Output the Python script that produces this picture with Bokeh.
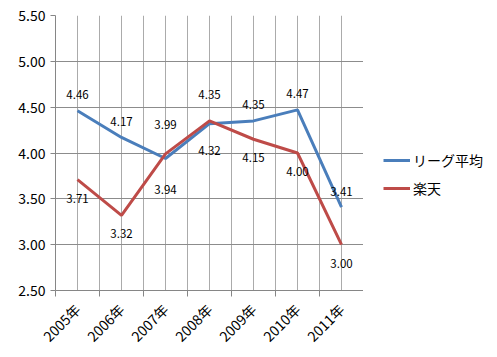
import math
from bokeh.plotting import figure
from bokeh.layouts import row
from bokeh.models import (FixedTicker, Range1d, Legend, LegendItem, ColumnDataSource,
                          LabelSet, NumeralTickFormatter, CustomJSTickFormatter)
from bokeh.core.properties import value
from bokeh.embed import file_html
from bokeh.resources import INLINE

# ---- data ----
years = ["2005年", "2006年", "2007年", "2008年", "2009年", "2010年", "2011年"]
league_avg = [4.46, 4.17, 3.94, 4.32, 4.35, 4.47, 3.41]
rakuten = [3.71, 3.32, 3.99, 4.35, 4.15, 4.00, 3.00]
series_names = ["リーグ平均", "楽天"]
y_ticks = [2.5, 3.0, 3.5, 4.0, 4.5, 5.0, 5.5]

# ---- styling ----
FONT = "Noto Sans CJK JP"
BLUE = "#4A7EBB"
RED = "#BE4B48"
AXIS = "#868686"
HGRID = "#8c8c8c"
VGRID = "#ababab"
blue_label_offsets = [16, 16, -31, -27, 16, 16, 16]
red_label_offsets = [-19, -18, 29, 26, -18, -18, -19]

xs = list(range(len(years)))

p = figure(width=363, height=357, output_backend="svg", toolbar_location=None,
           x_range=Range1d(-0.5, len(years) - 0.5),
           y_range=Range1d(y_ticks[0], y_ticks[-1]),
           min_border_left=55, min_border_top=15, min_border_right=0, min_border_bottom=67)
p.outline_line_color = None
p.background_fill_color = "white"

# x axis: labels at centers, tick marks at category boundaries (minor ticks)
xt = FixedTicker(ticks=xs, minor_ticks=[i - 0.5 for i in range(len(years) + 1)])
p.xaxis.ticker = xt
p.xaxis.formatter = CustomJSTickFormatter(args=dict(labels=years),
                                          code="const i = Math.round(tick); return labels[i] || '';")
p.xaxis.major_tick_out = 0
p.xaxis.major_tick_in = 0
p.xaxis.minor_tick_out = 6
p.xaxis.minor_tick_in = 0
p.xaxis.minor_tick_line_color = AXIS
p.xaxis.axis_line_color = AXIS
p.xaxis.major_label_orientation = math.pi / 4
p.xaxis.major_label_standoff = 10
p.xaxis.major_label_text_font = FONT
p.xaxis.major_label_text_font_size = "14px"
p.xaxis.major_label_text_color = "black"

p.xgrid.ticker = xt
p.xgrid.grid_line_color = VGRID
p.xgrid.minor_grid_line_color = VGRID

p.yaxis.ticker = FixedTicker(ticks=y_ticks, minor_ticks=[])
p.yaxis.formatter = NumeralTickFormatter(format="0.00")
p.yaxis.major_tick_out = 5
p.yaxis.major_tick_in = 0
p.yaxis.major_tick_line_color = AXIS
p.yaxis.axis_line_color = AXIS
p.yaxis.major_label_standoff = 5
p.yaxis.major_label_text_font = FONT
p.yaxis.major_label_text_font_size = "14px"
p.yaxis.major_label_text_color = "black"
p.ygrid.grid_line_color = HGRID

src_b = ColumnDataSource(dict(x=xs, y=league_avg, lab=[f"{v:.2f}" for v in league_avg],
                              off=blue_label_offsets))
src_r = ColumnDataSource(dict(x=xs, y=rakuten, lab=[f"{v:.2f}" for v in rakuten],
                              off=red_label_offsets))

p.line("x", "y", source=src_b, line_color=BLUE, line_width=3)
p.line("x", "y", source=src_r, line_color=RED, line_width=3)

for src in (src_b, src_r):
    p.add_layout(LabelSet(x="x", y="y", text="lab", y_offset="off", source=src,
                          text_align="center", text_baseline="middle",
                          text_font=value(FONT), text_font_size=value("11.5px"),
                          text_color="black"))

# legend panel (separate figure to the right); its lines reuse the series data,
# which lies outside this panel's range so only the legend swatches show
lf = figure(width=134, height=357, output_backend="svg", toolbar_location=None,
            x_axis_type=None, y_axis_type=None, x_range=Range1d(100, 101), y_range=Range1d(100, 101),
            min_border_left=0, min_border_right=0, min_border_top=0, min_border_bottom=0)
lf.outline_line_color = None
lf.xgrid.visible = False
lf.ygrid.visible = False
gb = lf.line("x", "y", source=src_b, line_color=BLUE, line_width=3)
gr = lf.line("x", "y", source=src_r, line_color=RED, line_width=3)

legend = Legend(items=[LegendItem(label=series_names[0], renderers=[gb]),
                       LegendItem(label=series_names[1], renderers=[gr])],
                location=(20, 92), orientation="vertical")
legend.border_line_color = None
legend.background_fill_alpha = 0
legend.glyph_width = 27
legend.glyph_height = 20
legend.label_standoff = 3
legend.spacing = 8
legend.padding = 0
legend.margin = 0
legend.label_text_font = FONT
legend.label_text_font_size = "14px"
legend.label_text_color = "black"
lf.add_layout(legend)

layout = row(p, lf)
open("out.html", "w").write(file_html(layout, INLINE))
